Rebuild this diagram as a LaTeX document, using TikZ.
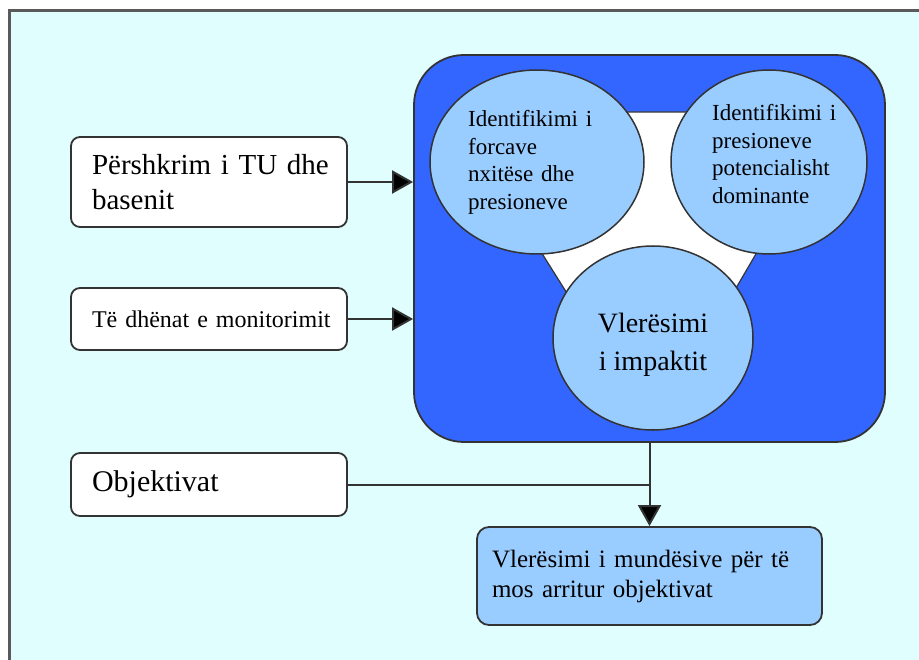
\documentclass[tikz,border=0pt]{standalone}
\usepackage{fontspec}
\setmainfont{Liberation Serif}
\usetikzlibrary{arrows.meta,shapes.geometric}
\definecolor{bgc}{HTML}{E0FEFE}
\definecolor{mainblue}{HTML}{3366FF}
\definecolor{lightblue}{HTML}{99CCFF}
\definecolor{framec}{HTML}{5A5A5A}
\definecolor{edgec}{HTML}{333333}
\begin{document}
\begin{tikzpicture}[x=1pt,y=-1pt,
  inbox/.style={draw=edgec, line width=1.8pt, fill=white, rounded corners=9pt, minimum width=276pt, text width=234pt, inner xsep=21pt, inner ysep=0pt, align=left, anchor=center},
  circ/.style={ellipse, draw=edgec, line width=1.5pt, fill=lightblue, inner sep=0pt},
  ctext/.style={anchor=north west, align=left, inner sep=0pt, font=\fontsize{23}{27.7}\selectfont},
  conn/.style={draw=edgec, line width=2pt},
  arr/.style={conn, -{Triangle[length=21pt,width=23pt,fill=black]}}
]
\useasboundingbox (0,0) rectangle (919,660);
\fill[white] (0,0) rectangle (919,660);
\fill[bgc] (9.5,11) rectangle (925,670);
\draw[framec, line width=3pt] (9.5,675) -- (9.5,11) -- (935,11);

\node[draw=edgec, line width=1.8pt, fill=mainblue, rounded corners=50pt, minimum width=471pt, minimum height=387pt, inner sep=0pt] (main) at (649.5,248.5) {};
\draw[fill=white, draw=edgec, line width=1.2pt] (453,112) -- (839,112) -- (653,430) -- cycle;

\node[circ, minimum width=214pt, minimum height=184pt] (c1) at (537,162) {};
\node[circ, minimum width=196pt, minimum height=184pt] (c2) at (769,162) {};
\node[circ, minimum width=200pt, minimum height=184pt] (c3) at (653,338) {};
\node[ctext, text width=135pt] (c1t) at (468,110) {\mbox{Identifikimi i}\\ \mbox{forcave}\\ \mbox{nxitëse dhe}\\ \mbox{presioneve}};
\node[ctext, text width=130pt] (c2t) at (712,104) {\mbox{Identifikimi i}\\ \mbox{presioneve}\\ \mbox{potencialisht}\\ \mbox{dominante}};
\node[align=center, inner sep=0pt, font=\fontsize{28}{38}\selectfont] (c3t) at (653,345) {Vlerësimi\\ i impaktit};

\node[inbox, minimum height=90pt, font=\fontsize{29}{35}\selectfont] (b1) at (209,182) {\mbox{Përshkrim i TU dhe}\\ \mbox{basenit}};
\node[inbox, minimum height=62pt, font=\fontsize{24}{29}\selectfont] (b2) at (209,319) {\mbox{Të dhënat e monitorimit}};
\node[inbox, minimum height=63pt, font=\fontsize{30}{36}\selectfont] (b3) at (209,484.5) {\mbox{Objektivat}};

\node[draw=edgec, line width=1.8pt, fill=lightblue, rounded corners=12pt, minimum width=345pt, minimum height=98pt, text width=315pt, inner xsep=15pt, inner ysep=0pt, align=left, font=\fontsize{25}{30}\selectfont] (res) at (649.5,576) {\mbox{Vlerësimi i mundësive për të}\\ \mbox{mos arritur objektivat}};

\draw[arr] (b1.east) -- (b1.east -| main.west);
\draw[arr] (b2.east) -- (b2.east -| main.west);
\draw[arr] (main.south) -- (res.north);
\draw[conn] (b3.east) -- (b3.east -| main.south);
\end{tikzpicture}
\end{document}
